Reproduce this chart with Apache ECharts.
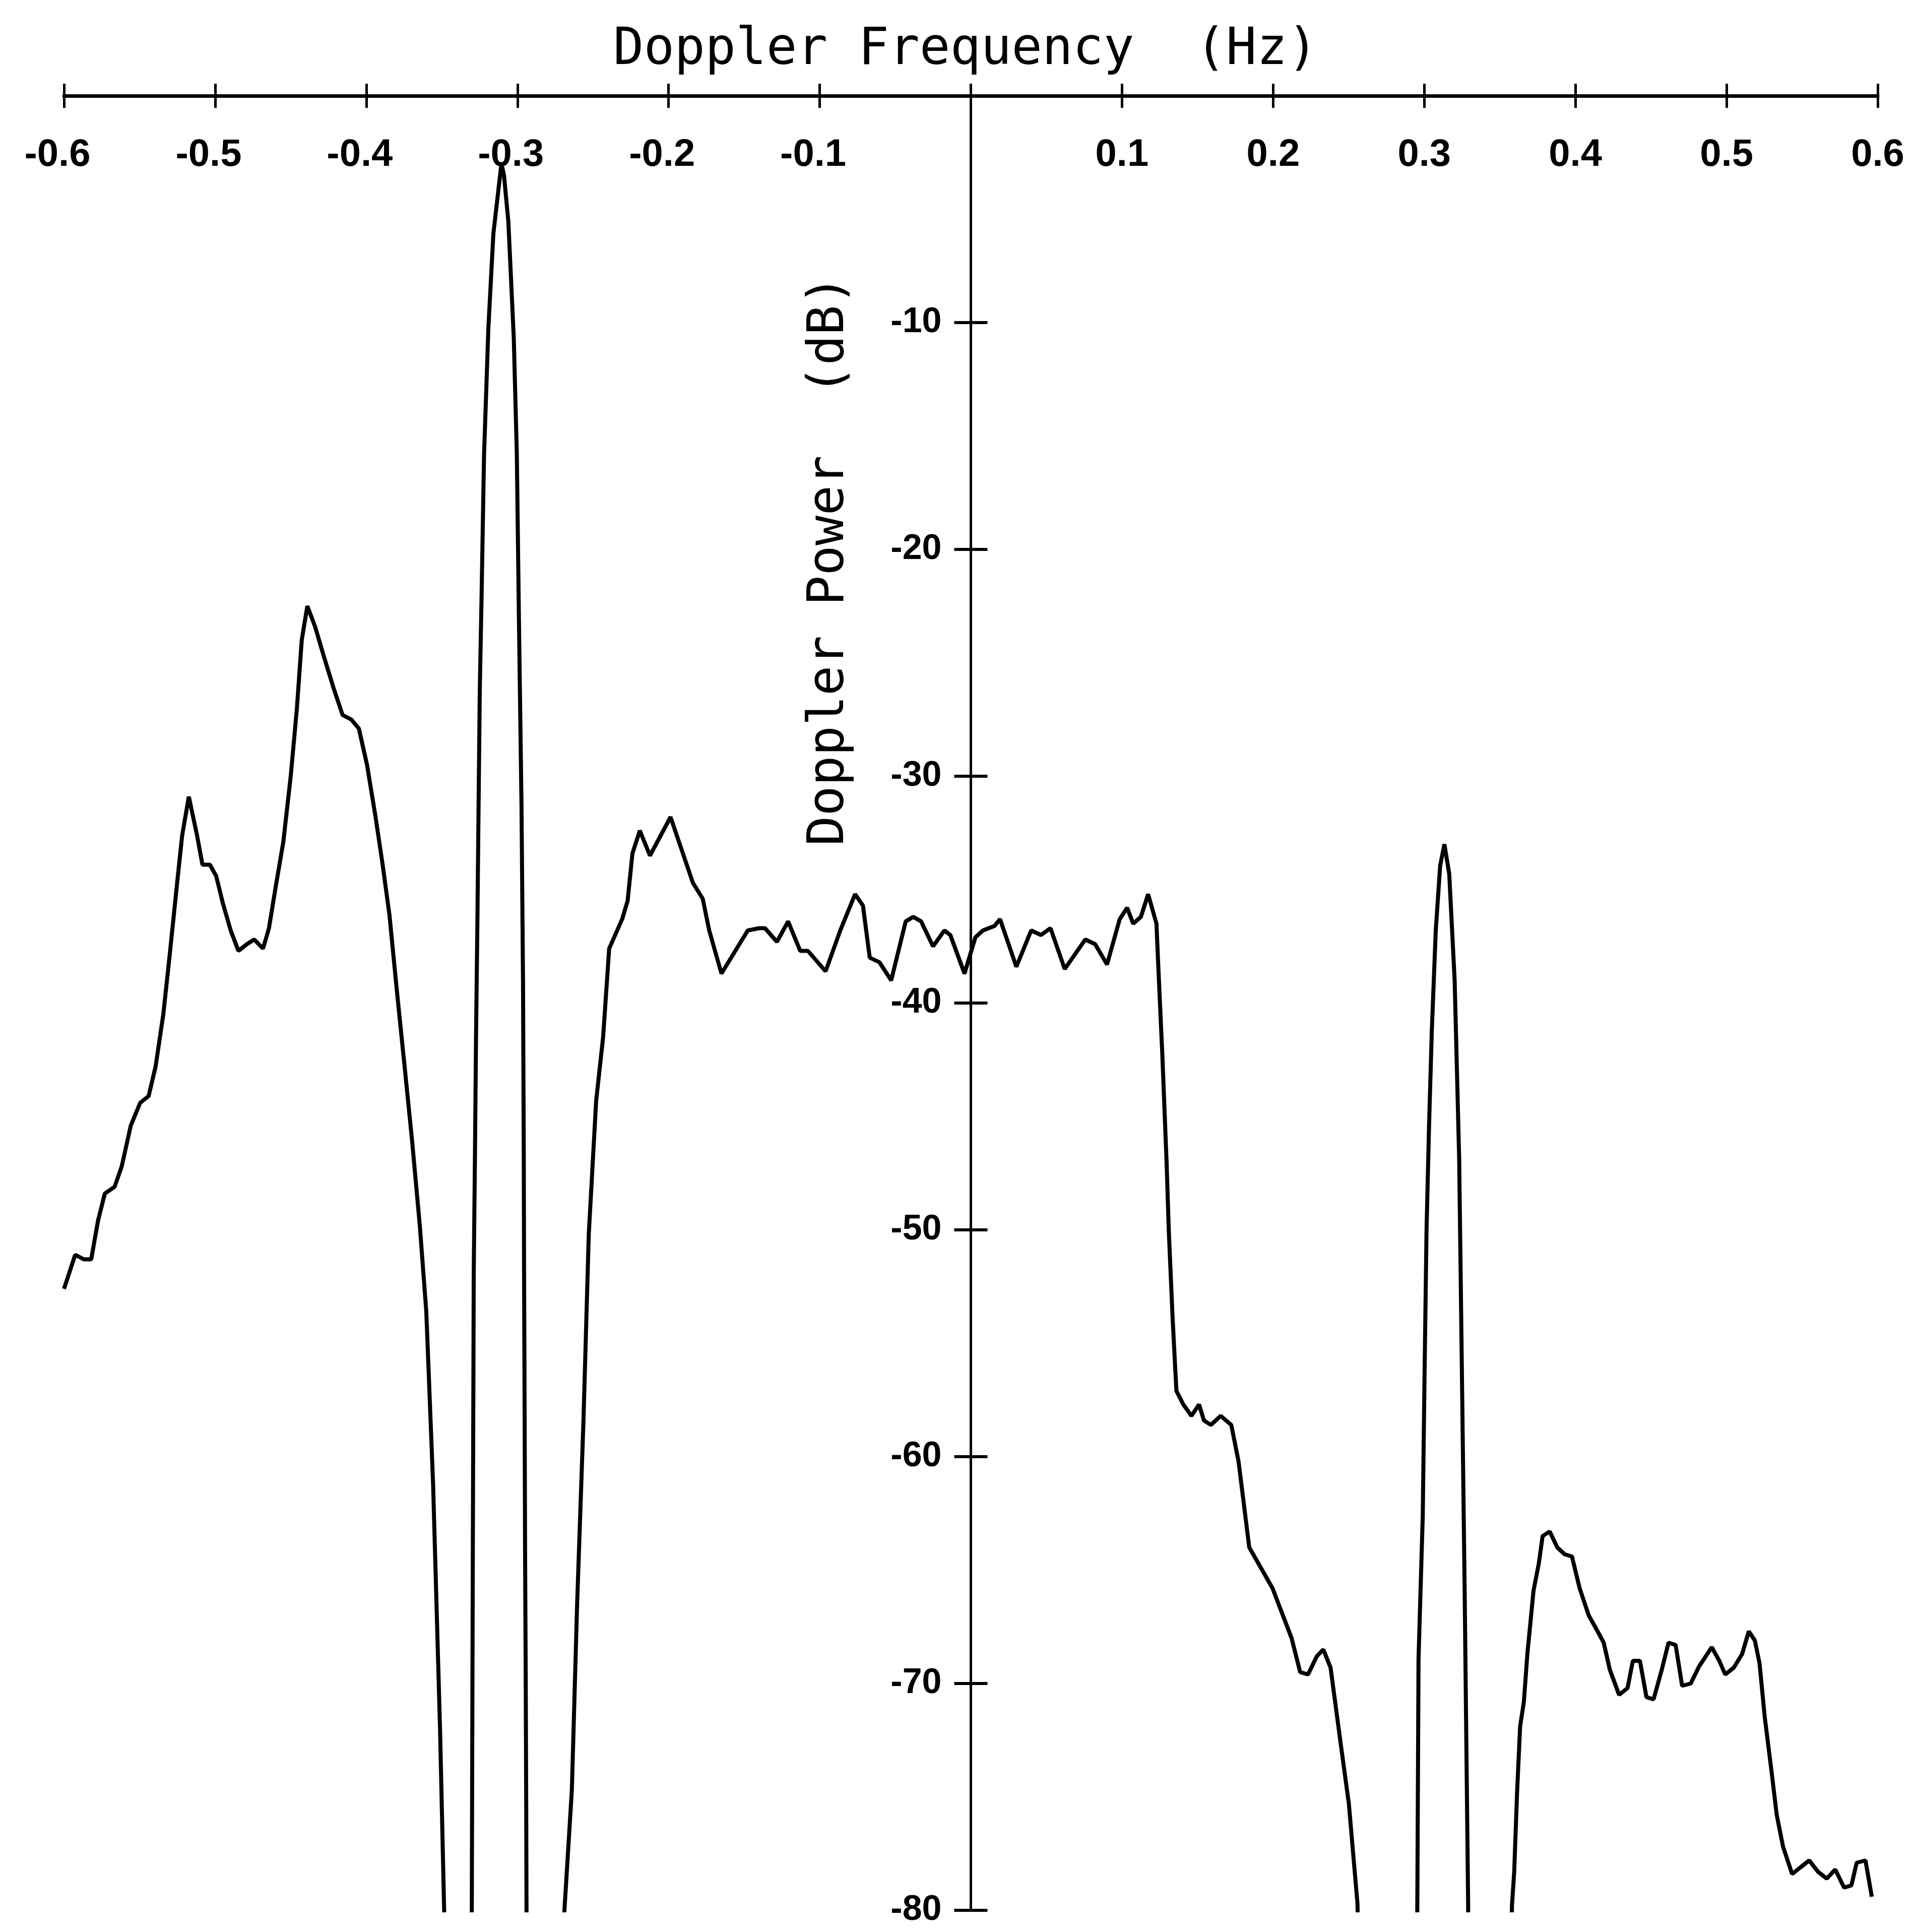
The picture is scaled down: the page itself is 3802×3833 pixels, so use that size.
<!DOCTYPE html>
<html><head><meta charset="utf-8">
<script src="https://cdn.jsdelivr.net/npm/echarts@6/dist/echarts.min.js"></script>
<style>html,body{margin:0;padding:0;background:#fff}#c{width:3802px;height:3833px}</style>
</head><body><div id="c"></div><script>
// ---- Data (Doppler frequency in Hz, Doppler power in dB) ----
const xTitle = 'Doppler Frequency  (Hz)';
const yTitle = 'Doppler Power  (dB)';
const xTickLabels = ['-0.6','-0.5','-0.4','-0.3','-0.2','-0.1','','0.1','0.2','0.3','0.4','0.5','0.6'];
const yTickLabels = ['-80','-70','-60','-50','-40','-30','-20','-10',''];

const freqLeft = [-0.600,-0.5926,-0.5868,-0.582,-0.5775,-0.573,-0.5665,-0.5618,-0.5558,-0.5496,-0.544,-0.5394,-0.5343,-0.5301,-0.5253,-0.5218,-0.5174,-0.512,-0.5084,-0.5035,-0.4993,-0.4949,-0.4897,-0.4846,-0.4789,-0.4741,-0.4683,-0.4644,-0.46,-0.4549,-0.45,-0.4459,-0.4427,-0.439,-0.4339,-0.4277,-0.4217,-0.4157,-0.4099,-0.4049,-0.3995,-0.3941,-0.3894,-0.3847,-0.3797,-0.3748,-0.3698,-0.3646,-0.3603,-0.3558,-0.3512,-0.3478];
const powerLeft = [-52.6,-51.1,-51.3,-51.3,-49.6,-48.4,-48.1,-47.2,-45.4,-44.4,-44.1,-42.8,-40.5,-37.9,-34.8,-32.6,-30.9,-32.6,-33.9,-33.9,-34.4,-35.6,-36.8,-37.7,-37.4,-37.2,-37.6,-36.7,-34.9,-32.9,-30.0,-27.0,-24.0,-22.5,-23.4,-24.8,-26.1,-27.3,-27.5,-27.9,-29.5,-31.7,-33.8,-36.1,-39.5,-42.7,-46.0,-49.8,-53.6,-61.2,-72.0,-82];

const freqMainPeak = [-0.3305,-0.3302,-0.3296,-0.3289,-0.3281,-0.3274,-0.3265,-0.3257,-0.3249,-0.3237,-0.3221,-0.3192,-0.3159,-0.3106,-0.3089,-0.306,-0.3024,-0.3004,-0.2989,-0.2973,-0.2963,-0.2958,-0.2956,-0.2953,-0.2949,-0.2945,-0.2942,-0.294,-0.2939];
const powerMainPeak = [-82,-80.2,-66.1,-51.9,-46.75,-41.6,-36.5,-31.3,-26.2,-22.0,-15.85,-10.2,-6.07,-3.0,-3.5,-5.55,-10.7,-15.8,-23.6,-31.3,-39.0,-46.7,-51.9,-57.0,-64.7,-69.9,-75.05,-79.7,-82];

const freqMid = [-0.2695,-0.269,-0.264,-0.2605,-0.2563,-0.2528,-0.2479,-0.2433,-0.2393,-0.2307,-0.2271,-0.2239,-0.219,-0.2123,-0.1987,-0.1839,-0.1774,-0.1731,-0.165,-0.1476,-0.14,-0.1362,-0.1283,-0.1209,-0.1129,-0.1078,-0.0961,-0.0864,-0.0766,-0.0714,-0.0669,-0.0605,-0.0527,-0.0431,-0.0381,-0.0329,-0.025,-0.0175,-0.0136,-0.0042,0.003,0.008,0.0157,0.0193,0.0301,0.0399,0.0464,0.0527,0.0621,0.0757,0.0822,0.0901,0.0985,0.1034,0.1074,0.1125,0.1173,0.1228,0.1241,0.1267,0.1295,0.131,0.1335,0.136,0.1406,0.1459,0.151,0.1542,0.1588,0.1653,0.1723,0.1771,0.1842,0.1919,0.1996,0.2122,0.2179,0.2231,0.2289,0.2332,0.238,0.245,0.2501,0.2558,0.2565];
const powerMid = [-82,-80.1,-74.7,-66.5,-58.4,-50.2,-44.3,-41.5,-37.6,-36.3,-35.5,-33.4,-32.4,-33.5,-31.8,-34.7,-35.4,-36.8,-38.7,-36.8,-36.7,-36.7,-37.3,-36.4,-37.7,-37.7,-38.6,-36.8,-35.2,-35.7,-38.0,-38.2,-39.0,-36.4,-36.2,-36.4,-37.5,-36.8,-37.0,-38.7,-37.1,-36.8,-36.6,-36.3,-38.4,-36.8,-37.0,-36.7,-38.5,-37.2,-37.4,-38.3,-36.3,-35.8,-36.5,-36.2,-35.2,-36.5,-38.5,-42.3,-47.0,-50.1,-53.9,-57.1,-57.7,-58.2,-57.7,-58.4,-58.6,-58.2,-58.6,-60.2,-64.0,-64.9,-65.8,-68.0,-69.5,-69.6,-68.8,-68.5,-69.3,-72.8,-75.3,-79.7,-82];

const freqSmallPeak = [0.2952,0.2954,0.2962,0.299,0.3002,0.3015,0.3032,0.305,0.3076,0.3105,0.3133,0.3165,0.3201,0.3231,0.3249,0.3267,0.329,0.3292];
const powerSmallPeak = [-82,-79.65,-68.9,-62.6,-56.3,-50.0,-45.3,-41.2,-36.8,-33.95,-33.0,-34.3,-39.0,-46.9,-56.3,-65.8,-79.6,-82];

const freqRight = [0.3578,0.358,0.3595,0.3614,0.3634,0.3659,0.3682,0.3723,0.3758,0.3783,0.383,0.388,0.3928,0.3977,0.4028,0.4088,0.4147,0.4187,0.4228,0.4289,0.4345,0.438,0.4427,0.447,0.4517,0.4571,0.4616,0.4663,0.4706,0.4763,0.4818,0.4902,0.4952,0.4991,0.5048,0.5103,0.5147,0.5187,0.5218,0.5253,0.5298,0.5332,0.5374,0.5434,0.549,0.5547,0.5605,0.5663,0.5719,0.5778,0.5826,0.5861,0.5919,0.5961];
const powerRight = [-82,-79.8,-78.3,-74.8,-71.9,-70.8,-68.7,-65.9,-64.7,-63.5,-63.3,-64.0,-64.3,-64.4,-65.8,-67.0,-67.7,-68.2,-69.4,-70.5,-70.2,-69.0,-69.0,-70.6,-70.7,-69.4,-68.2,-68.3,-70.1,-70.0,-69.25,-68.4,-69.0,-69.6,-69.3,-68.7,-67.7,-68.1,-69.1,-71.5,-73.9,-75.8,-77.2,-78.4,-78.1,-77.8,-78.3,-78.6,-78.2,-79.0,-78.9,-77.9,-77.8,-79.4];

const X_MIN = -0.6, X_MAX = 0.6, X_STEP = 0.1;
const Y_MIN = -80, Y_MAX = 0, Y_STEP = 10;

const zip = (a, b) => a.map((v, i) => [v, b[i]]);
const segments = [
  zip(freqLeft, powerLeft),
  zip(freqMainPeak, powerMainPeak),
  zip(freqMid, powerMid),
  zip(freqSmallPeak, powerSmallPeak),
  zip(freqRight, powerRight)
];

// negative labels: the digits sit centred on the tick, the minus sign hangs to the left
const xLabelFmt = v => {
  const s = xTickLabels[Math.round((v - X_MIN) / X_STEP)] ?? '';
  if (!s) return '';
  return s.startsWith('-') ? '{neg|' + s + '}' : '{pos|' + s + '}';
};
const yLabelFmt = v => yTickLabels[Math.round((v - Y_MIN) / Y_STEP)] ?? '';

// layout (pixels)
const GRID_LEFT = 127, GRID_RIGHT = 76, GRID_TOP = 190, GRID_BOTTOM = 43;
const PAGE_W = 3802;
const plotW = PAGE_W - GRID_LEFT - GRID_RIGHT;
// the vertical axis is drawn where frequency = 0 (centre of the x range)
const Y_AXIS_OFFSET = -plotW * (0 - X_MIN) / (X_MAX - X_MIN);

const xLabelFont = {fontFamily: 'Liberation Sans', fontWeight: 'bold', fontSize: 76, color: '#000'};

const chart = echarts.init(document.getElementById('c'), null, {renderer: 'canvas'});
const black = '#000';
chart.setOption({
  backgroundColor: '#fff',
  animation: false,
  grid: {left: GRID_LEFT, right: GRID_RIGHT, top: GRID_TOP, bottom: GRID_BOTTOM, containLabel: false, outerBoundsMode: 'none'},
  xAxis: [
    {type: 'value', min: X_MIN, max: X_MAX, interval: X_STEP, position: 'top',
     axisLine: {show: true, onZero: false, lineStyle: {color: black, width: 7}},
     axisTick: {show: true, inside: false, length: 24, lineStyle: {color: black, width: 5}},
     axisLabel: Object.assign({show: true, inside: true, margin: 80, formatter: xLabelFmt,
       showMinLabel: true, showMaxLabel: true,
       rich: {
         neg: Object.assign({padding: [0, 26, 0, 0]}, xLabelFont),
         pos: Object.assign({}, xLabelFont)
       }}, xLabelFont),
     splitLine: {show: false}},
    {type: 'value', min: X_MIN, max: X_MAX, interval: X_STEP, position: 'top',
     axisLine: {show: false, onZero: false},
     axisTick: {show: true, inside: true, length: 24, lineStyle: {color: black, width: 5}},
     axisLabel: {show: false}, splitLine: {show: false}}
  ],
  yAxis: [
    {type: 'value', min: Y_MIN, max: Y_MAX, interval: Y_STEP, position: 'left', offset: Y_AXIS_OFFSET,
     axisLine: {show: true, onZero: false, lineStyle: {color: black, width: 5}},
     axisTick: {show: true, inside: false, length: 33, lineStyle: {color: black, width: 6}},
     axisLabel: {show: true, margin: 58, formatter: yLabelFmt, color: black,
       fontFamily: 'Liberation Sans', fontWeight: 'bold', fontSize: 70, showMinLabel: true, showMaxLabel: true},
     splitLine: {show: false}},
    {type: 'value', min: Y_MIN, max: Y_MAX, interval: Y_STEP, position: 'left', offset: Y_AXIS_OFFSET,
     axisLine: {show: false, onZero: false},
     axisTick: {show: true, inside: true, length: 33, lineStyle: {color: black, width: 6}},
     axisLabel: {show: false}, splitLine: {show: false}}
  ],
  graphic: [
    {type: 'text', x: 1916, y: 101, silent: true,
     style: {text: xTitle, fill: black, fontFamily: 'DejaVu Sans Mono', fontSize: 101,
       align: 'center', verticalAlign: 'middle', textAlign: 'center', textVerticalAlign: 'middle'}},
    {type: 'text', x: 1647, y: 1112, rotation: Math.PI / 2, silent: true,
     style: {text: yTitle, fill: black, fontFamily: 'DejaVu Sans Mono', fontSize: 99,
       align: 'center', verticalAlign: 'middle', textAlign: 'center', textVerticalAlign: 'middle'}}
  ],
  series: segments.map(d => ({
    type: 'line', xAxisIndex: 0, yAxisIndex: 0, data: d, showSymbol: false, symbol: 'none',
    clip: true, smooth: false, lineStyle: {color: black, width: 8}, silent: true
  }))
});
</script></body></html>
